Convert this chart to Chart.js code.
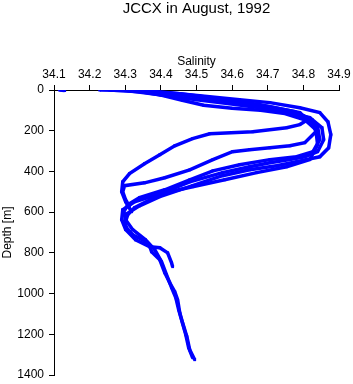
<!DOCTYPE html>
<html>
<head>
<meta charset="utf-8">
<script src="https://cdn.jsdelivr.net/npm/chart.js@4.4.1/dist/chart.umd.min.js"></script>
<style>
  body { margin: 0; background: #fff; }
  canvas { display: block; }
</style>
</head>
<body>
<canvas id="chart" width="353" height="384"></canvas>
<script>
// casts: [salinity, depth in m]
var castA = [[34.312,3],[34.425,13],[34.509,28],[34.621,48],[34.706,62],[34.790,87],[34.846,111],[34.869,156],[34.877,219],[34.871,284],[34.846,328],[34.781,352],[34.725,372],[34.649,392],[34.573,421],[34.489,470],[34.397,524],[34.340,569],[34.304,608],[34.298,647],[34.304,677],[34.321,711],[34.349,736],[34.369,770],[34.374,795],[34.397,834],[34.411,898],[34.425,947],[34.439,991],[34.447,1030],[34.453,1094],[34.461,1144],[34.473,1212],[34.481,1276],[34.495,1325]];
var castB = [[34.228,0],[34.304,3],[34.397,23],[34.501,48],[34.593,67],[34.678,87],[34.762,111],[34.818,136],[34.852,185],[34.857,244],[34.840,303],[34.804,328],[34.762,342],[34.706,357],[34.649,377],[34.573,406],[34.481,451],[34.397,510],[34.326,549],[34.293,588],[34.290,637],[34.301,686],[34.329,736],[34.369,770],[34.397,775],[34.419,800],[34.430,849],[34.433,868]];
var castC = [[34.369,8],[34.467,23],[34.551,48],[34.664,77],[34.748,106],[34.804,131],[34.840,180],[34.846,244],[34.827,303],[34.781,328],[34.706,342],[34.621,367],[34.546,397],[34.481,441],[34.411,490],[34.340,529],[34.307,564],[34.296,598],[34.301,637],[34.321,686],[34.357,736],[34.383,785],[34.402,844],[34.416,908],[34.430,971],[34.442,1021],[34.450,1080],[34.458,1129],[34.470,1203],[34.478,1266],[34.489,1315]];
var castD = [[34.340,3],[34.453,18],[34.565,43],[34.678,72],[34.776,106],[34.824,146],[34.835,205],[34.804,259],[34.762,274],[34.706,284],[34.649,293],[34.601,303],[34.546,342],[34.481,392],[34.411,431],[34.354,456],[34.298,470],[34.293,500],[34.301,539],[34.312,573]];
var castE = [[34.284,0],[34.397,13],[34.481,28],[34.593,53],[34.706,82],[34.790,111],[34.812,146],[34.790,170],[34.753,185],[34.658,205],[34.537,215],[34.489,239],[34.439,274],[34.397,318],[34.354,362],[34.312,411],[34.293,451],[34.290,500],[34.301,549],[34.318,598]];
var castF = [[34.256,0],[34.340,8],[34.400,25],[34.460,50],[34.520,75],[34.600,90],[34.680,100],[34.748,116],[34.804,146],[34.835,195],[34.840,269],[34.818,342],[34.753,377],[34.669,406],[34.579,441],[34.489,475],[34.425,500],[34.369,539],[34.326,578],[34.307,613],[34.298,662]];
var castG = [[34.115,0],[34.130,3]];

var salinityRange = [34.1, 34.9];
var depthRange = [0, 1400];

var casts = [castA, castB, castC, castD, castE, castF, castG];
var font = "'Liberation Sans', Arial, Helvetica, sans-serif";

var datasets = casts.map(function(c){
  return {
    data: c.map(function(p){ return {x: p[0], y: p[1]}; }),
    showLine: true,
    borderColor: '#0000ff',
    backgroundColor: '#0000ff',
    borderWidth: 3.5,
    borderJoinStyle: 'miter',
    pointStyle: 'rect',
    pointRadius: 2,
    pointBorderWidth: 0
  };
});

// title centred over the plot area
var topTitle = {
  id: 'topTitle',
  afterDraw: function(chart){
    var ctx = chart.ctx, a = chart.chartArea;
    ctx.save();
    ctx.fillStyle = '#000';
    ctx.font = '15px ' + font;
    ctx.textAlign = 'center';
    ctx.textBaseline = 'middle';
    ctx.fillText('JCCX in August, 1992', (a.left + a.right) / 2, 9);
    ctx.restore();
  }
};

new Chart(document.getElementById('chart'), {
  type: 'scatter',
  data: { datasets: datasets },
  plugins: [topTitle],
  options: {
    responsive: false,
    animation: false,
    devicePixelRatio: 1,
    layout: { padding: { top: 50, left: 0, right: 14, bottom: 9 } },
    plugins: { legend: { display: false }, tooltip: { enabled: false } },
    scales: {
      x: {
        type: 'linear',
        position: 'top',
        min: salinityRange[0],
        max: salinityRange[1],
        afterFit: function(s){ s.height = 40; s.paddingLeft = 0; s.paddingRight = 0; },
        ticks: {
          stepSize: 0.1,
          color: '#000',
          padding: 3,
          font: { family: font, size: 12 },
          callback: function(v){ return v.toFixed(1); }
        },
        grid: { drawOnChartArea: false, drawTicks: true, tickLength: 5, color: '#000' },
        border: { display: true, color: '#000', width: 1 },
        title: { display: true, text: 'Salinity', color: '#000', font: { family: font, size: 12 }, padding: { top: 4, bottom: 0 } }
      },
      y: {
        type: 'linear',
        reverse: true,
        min: depthRange[0],
        max: depthRange[1],
        afterFit: function(s){ s.width = 54; s.paddingTop = 0; s.paddingBottom = 0; },
        ticks: {
          stepSize: 200,
          color: '#000',
          padding: 5,
          font: { family: font, size: 12 },
          callback: function(v){ return String(v); }
        },
        grid: { drawOnChartArea: false, drawTicks: true, tickLength: 5, color: '#000' },
        border: { display: true, color: '#000', width: 1 },
        title: { display: true, text: 'Depth [m]', color: '#000', font: { family: font, size: 12 }, padding: { top: 0, bottom: 0 } }
      }
    }
  }
});
</script>
</body>
</html>
